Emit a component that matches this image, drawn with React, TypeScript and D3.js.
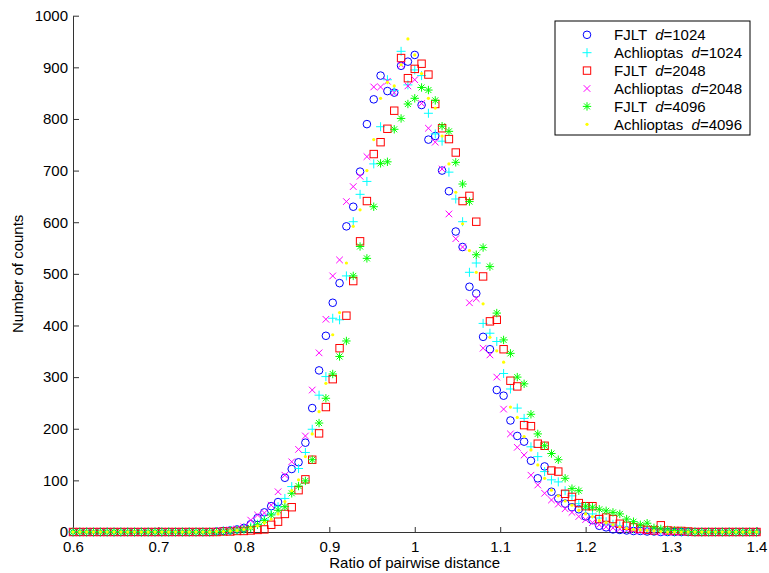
import * as d3 from "d3";
import { useEffect, useRef } from "react";

// bin centres of the histogram, 0.6 : 0.008 : 1.4
const bins = d3.range(101).map(i => +(0.6 + 0.008 * i).toFixed(3));

const fjlt1024 = [
	0, 0, 0, 0, 0, 0, 0, 0, 0, 0,
	0, 0, 0, 0, 0, 0, 0, 0, 0, 0,
	0, 1, 2, 3, 5, 8, 15, 27, 38, 50,
	58, 105, 122, 135, 173, 240, 313, 380, 444, 482,
	592, 630, 698, 790, 838, 884, 854, 851, 903, 911,
	924, 827, 760, 767, 700, 660, 582, 552, 475, 462,
	378, 354, 275, 264, 216, 186, 175, 138, 104, 127,
	78, 65, 55, 48, 44, 30, 23, 12, 9, 5,
	4, 3, 2, 2, 1, 1, 0, 0, 0, 0,
	0, 0, 0, 0, 0, 0, 0, 0, 0, 0,
	0
];
const achlioptas1024 = [
	0, 0, 0, 0, 0, 0, 0, 0, 0, 0,
	0, 0, 0, 0, 0, 0, 0, 0, 0, 0,
	0, 1, 2, 3, 4, 6, 10, 15, 25, 35,
	49, 65, 88, 123, 154, 199, 265, 301, 414, 411,
	496, 601, 654, 679, 713, 785, 876, 855, 931, 866,
	895, 884, 811, 771, 757, 697, 645, 601, 503, 521,
	404, 385, 369, 307, 277, 240, 220, 165, 146, 117,
	101, 97, 80, 70, 55, 45, 35, 27, 20, 15,
	12, 8, 6, 4, 3, 2, 2, 1, 0, 0,
	0, 0, 0, 0, 0, 0, 0, 0, 0, 0,
	0
];
const fjlt2048 = [
	0, 0, 0, 0, 0, 0, 0, 0, 0, 0,
	0, 0, 0, 0, 0, 0, 0, 0, 0, 0,
	0, 0, 1, 1, 2, 2, 3, 4, 5, 14,
	20, 35, 48, 81, 102, 140, 191, 242, 296, 356,
	419, 486, 563, 641, 732, 755, 781, 816, 918, 879,
	897, 907, 886, 829, 782, 761, 735, 641, 651, 601,
	495, 408, 411, 354, 293, 282, 207, 205, 171, 167,
	119, 117, 74, 68, 56, 50, 50, 25, 28, 25,
	16, 12, 9, 6, 4, 3, 13, 3, 2, 2,
	1, 0, 0, 0, 0, 0, 0, 0, 0, 0,
	0
];
const achlioptas2048 = [
	0, 0, 0, 0, 0, 0, 0, 0, 0, 0,
	0, 0, 0, 0, 0, 0, 0, 0, 0, 0,
	0, 1, 2, 4, 6, 10, 23, 33, 37, 52,
	78, 110, 136, 160, 186, 275, 347, 412, 496, 527,
	640, 669, 689, 727, 862, 862, 873, 851, 905, 864,
	876, 830, 782, 755, 703, 616, 568, 552, 444, 452,
	356, 343, 300, 238, 190, 164, 149, 110, 91, 75,
	62, 54, 45, 38, 30, 24, 18, 14, 10, 8,
	6, 4, 3, 2, 2, 1, 0, 0, 0, 0,
	0, 0, 0, 0, 0, 0, 0, 0, 0, 0,
	0
];
const fjlt4096 = [
	0, 0, 0, 0, 0, 0, 0, 0, 0, 0,
	0, 0, 0, 0, 0, 0, 0, 0, 0, 0,
	0, 0, 1, 2, 3, 5, 8, 14, 22, 33,
	42, 49, 75, 89, 99, 140, 211, 259, 306, 340,
	370, 496, 553, 530, 630, 714, 717, 780, 801, 829,
	840, 861, 856, 836, 786, 776, 716, 674, 640, 537,
	551, 514, 424, 372, 346, 300, 287, 228, 190, 167,
	152, 140, 104, 84, 80, 50, 48, 44, 41, 38,
	35, 25, 20, 14, 17, 8, 6, 4, 3, 2,
	1, 0, 0, 0, 0, 0, 0, 0, 0, 0,
	0
];
const achlioptas4096 = [
	0, 0, 0, 0, 0, 0, 0, 0, 0, 0,
	0, 0, 0, 0, 0, 0, 0, 0, 0, 0,
	0, 1, 1, 2, 3, 5, 8, 12, 18, 25,
	35, 59, 80, 101, 146, 190, 233, 288, 382, 425,
	521, 592, 624, 700, 760, 840, 871, 864, 905, 955,
	924, 888, 840, 821, 767, 713, 658, 597, 545, 503,
	442, 377, 351, 329, 242, 222, 185, 159, 130, 104,
	81, 70, 60, 52, 42, 35, 30, 22, 18, 14,
	10, 7, 5, 4, 3, 2, 1, 0, 0, 0,
	0, 0, 0, 0, 0, 0, 0, 0, 0, 0,
	0
];

const seriesNames = ["FJLT", "Achlioptas", "FJLT", "Achlioptas", "FJLT", "Achlioptas"];
const seriesDims = ["1024", "1024", "2048", "2048", "4096", "4096"];
const seriesValues = [fjlt1024, achlioptas1024, fjlt2048, achlioptas2048, fjlt4096, achlioptas4096];
const markers = ["o", "+", "s", "x", "*", "."];
const colors = ["#0000ff", "#00ffff", "#ff0000", "#ff00ff", "#00ff00", "#ffff00"];

const xTicks = [0.6, 0.7, 0.8, 0.9, 1, 1.1, 1.2, 1.3, 1.4];
const yTicks = [0, 100, 200, 300, 400, 500, 600, 700, 800, 900, 1000];

const font = "'Liberation Sans', Arial, Helvetica, sans-serif";

const drawMarker = (g, kind, color, cx, cy) => {
	if (kind === "o") {
		g.append("circle").attr("cx", cx).attr("cy", cy).attr("r", 3.8)
			.attr("fill", "none").attr("stroke", color).attr("stroke-width", 1);
	} else if (kind === "+") {
		g.append("path").attr("d", `M${cx - 4.5},${cy}h9M${cx},${cy - 4.5}v9`)
			.attr("stroke", color).attr("stroke-width", 1).attr("fill", "none");
	} else if (kind === "s") {
		g.append("rect").attr("x", cx - 3.7).attr("y", cy - 3.7).attr("width", 7.4).attr("height", 7.4)
			.attr("fill", "none").attr("stroke", color).attr("stroke-width", 1);
	} else if (kind === "x") {
		g.append("path").attr("d", `M${cx - 3.3},${cy - 3.3}l6.6,6.6M${cx - 3.3},${cy + 3.3}l6.6,-6.6`)
			.attr("stroke", color).attr("stroke-width", 1).attr("fill", "none");
	} else if (kind === "*") {
		g.append("path")
			.attr("d", `M${cx - 4.2},${cy}h8.4M${cx},${cy - 4.2}v8.4M${cx - 3},${cy - 3}l6,6M${cx - 3},${cy + 3}l6,-6`)
			.attr("stroke", color).attr("stroke-width", 1).attr("fill", "none");
	} else {
		g.append("circle").attr("cx", cx).attr("cy", cy).attr("r", 1.6).attr("fill", color);
	}
};

const App = () => {
	const chartRef = useRef(null);

	useEffect(() => {
		const svg = d3.select(chartRef.current);
		svg.selectAll("*").remove();

		const x = d3.scaleLinear().domain([0.6, 1.4]).range([73, 756.5]);
		const y = d3.scaleLinear().domain([0, 1000]).range([532, 15.7]);

		svg.append("rect").attr("width", 769).attr("height", 573).attr("fill", "#fff");

		const xAxis = d3.axisBottom(x)
			.tickValues(xTicks)
			.tickSizeInner(-5)
			.tickSizeOuter(0)
			.tickPadding(9)
			.tickFormat(d => String(+(+d).toFixed(1)));
		const gx = svg.append("g")
			.attr("transform", `translate(0, ${y(0)})`)
			.call(xAxis);

		const yAxis = d3.axisLeft(y)
			.tickValues(yTicks)
			.tickSizeInner(-6)
			.tickSizeOuter(0)
			.tickPadding(5)
			.tickFormat(d3.format("d"));
		const gy = svg.append("g")
			.attr("transform", `translate(${x(0.6)}, 0)`)
			.call(yAxis);

		[gx, gy].forEach(g => {
			g.selectAll("path, line").attr("stroke", "#333");
			g.selectAll("text").attr("fill", "#000")
				.style("font-family", font).style("font-size", "15px");
		});

		svg.append("text")
			.attr("x", (x(0.6) + x(1.4)) / 2)
			.attr("y", 568)
			.attr("text-anchor", "middle")
			.style("font-family", font).style("font-size", "15px")
			.text("Ratio of pairwise distance");

		svg.append("text")
			.attr("transform", `translate(23, ${(y(0) + y(1000)) / 2}) rotate(-90)`)
			.attr("text-anchor", "middle")
			.style("font-family", font).style("font-size", "15px")
			.text("Number of counts");

		seriesValues.forEach((vals, k) => {
			const g = svg.append("g");
			vals.forEach((v, i) => drawMarker(g, markers[k], colors[k], x(bins[i]), y(v)));
		});

		// legend
		const lg = svg.append("g");
		lg.append("rect").attr("x", 555).attr("y", 21).attr("width", 195).attr("height", 114)
			.attr("fill", "#fff").attr("stroke", "#000").attr("stroke-width", 1);
		seriesNames.forEach((name, k) => {
			const ry = 34.8 + 17.9 * k;
			drawMarker(lg, markers[k], colors[k], 587, ry);
			const t = lg.append("text")
				.attr("x", 614).attr("y", ry).attr("dy", "0.35em")
				.style("font-family", font).style("font-size", "15px")
				.style("white-space", "pre");
			t.append("tspan").text(name + "  ");
			t.append("tspan").style("font-style", "italic").text("d");
			t.append("tspan").text("=" + seriesDims[k]);
		});
	}, []);

	return (
		<svg ref={chartRef} width={769} height={573} style={{ position: "absolute", left: 0, top: 0 }}></svg>
	);
};

export default App;
